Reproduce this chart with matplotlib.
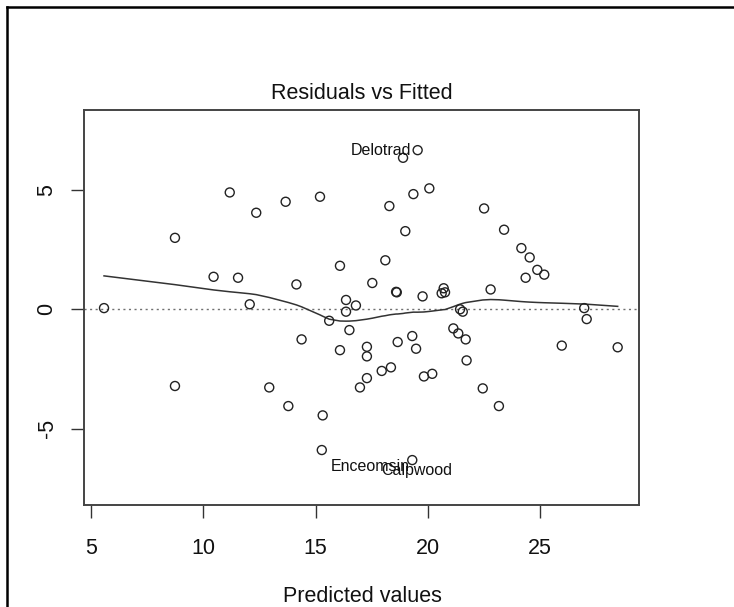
import numpy as np
import matplotlib
matplotlib.use("Agg")
import matplotlib.pyplot as plt
from matplotlib.lines import Line2D

plt.rcParams['font.family'] = ['Liberation Sans', 'DejaVu Sans']

# Fitted values and residuals
fitted = [5.58, 8.74, 8.74, 10.46, 11.18, 11.55, 12.07, 12.36, 12.94, 13.67,
          13.79, 14.15, 14.38, 15.20, 15.32, 15.28, 15.61, 16.09, 16.09, 16.36,
          16.36, 16.51, 16.80, 16.98, 17.29, 17.29, 17.29, 17.53, 17.95, 18.11,
          18.29, 18.36, 18.59, 18.62, 18.66, 18.90, 19.00, 19.31, 19.31, 19.36,
          19.48, 19.55, 19.77, 19.83, 20.07, 20.20, 20.62, 20.71, 20.77, 21.14,
          21.36, 21.44, 21.56, 21.69, 21.73, 22.45, 22.51, 22.80, 23.17, 23.40,
          24.17, 24.36, 24.54, 24.88, 25.19, 25.97, 26.97, 27.08, 28.46]
residuals = [0.04, 2.98, -3.22, 1.35, 4.88, 1.31, 0.20, 4.03, -3.28, 4.49,
             -4.06, 1.03, -1.27, 4.70, -4.45, -5.90, -0.49, 1.81, -1.72, 0.38,
             -0.11, -0.88, 0.15, -3.28, -1.58, -1.98, -2.89, 1.09, -2.59, 2.04,
             4.31, -2.44, 0.72, 0.70, -1.38, 6.33, 3.26, -1.13, -6.32, 4.81,
             -1.66, 6.65, 0.53, -2.82, 5.05, -2.71, 0.66, 0.87, 0.70, -0.81,
             -1.02, -0.01, -0.11, -1.27, -2.15, -3.32, 4.21, 0.82, -4.06, 3.32,
             2.55, 1.31, 2.16, 1.64, 1.44, -1.53, 0.04, -0.42, -1.60]

# Labelled observations (largest residuals)
id_names = ["Delotrad", "Enceomsin", "Calpwood"]
id_fitted = [19.55, 15.28, 19.31]
id_resid = [6.65, -5.90, -6.32]

x_ticks = [5, 10, 15, 20, 25]
y_ticks = [-5, 0, 5]


def lowess(x, y, f=2/3, iters=3):
    """Locally weighted linear smoother with robustness iterations."""
    x = np.asarray(x, float)
    y = np.asarray(y, float)
    order = np.argsort(x, kind="stable")
    x, y = x[order], y[order]
    n = len(x)
    ns = max(min(int(f * n + 1e-7), n), 2)
    rw = np.ones(n)
    ys = np.zeros(n)
    for it in range(iters + 1):
        for i in range(n):
            d = np.abs(x - x[i])
            h = max(np.sort(d)[ns - 1], 1e-12)
            w = np.clip(1 - (d / h) ** 3, 0, None) ** 3
            w = w * rw
            sw = w.sum()
            if sw <= 0:
                ys[i] = y[i]
                continue
            wn = w / sw
            xm = (wn * x).sum()
            c = (wn * (x - xm) ** 2).sum()
            if np.sqrt(c) > 0.001 * (x[-1] - x[0]):
                b = (wn * (x - xm) * y).sum() / c
                ys[i] = (wn * y).sum() + b * (x[i] - xm)
            else:
                ys[i] = (wn * y).sum()
        if it == iters:
            break
        res = y - ys
        cmad = 6 * np.median(np.abs(res))
        if cmad == 0:
            break
        u = res / cmad
        rw = np.where(np.abs(u) < 1, (1 - u ** 2) ** 2, 0)
    return x, ys


W, H = 734, 607
fig = plt.figure(figsize=(W / 100, H / 100), dpi=100)
ax = fig.add_axes([84 / W, 1 - 505 / H, (639 - 84) / W, (505 - 110) / H])

ax.axhline(0, color="#707070", linestyle=(0, (1.5, 2.5)), linewidth=1.0, zorder=1)
ax.scatter(fitted, residuals, s=42, facecolors="none", edgecolors="#222222",
           linewidths=1.0, zorder=3)
sx, sy = lowess(fitted, residuals)
ax.plot(sx, sy, color="#333333", linewidth=1.1, zorder=2)

offsets = [(-6, 0, "right"), (9, -16, "left"), (4, -10, "center")]
for name, fx, ry, (dx, dy, ha) in zip(id_names, id_fitted, id_resid, offsets):
    ax.annotate(name, xy=(fx, ry), xytext=(dx, dy), textcoords="offset pixels",
                ha=ha, va="center", fontsize=11.5, color="#111111")

ax.set_xlim(4.688, 29.41)
ax.set_ylim(-8.20, 8.33)
ax.set_xticks(x_ticks)
ax.set_yticks(y_ticks)
ax.set_xticklabels([str(v) for v in x_ticks], fontsize=15.5)
ax.set_yticklabels([str(v) for v in y_ticks], fontsize=15.5, rotation=90, va="center")
ax.tick_params(length=9.5, width=1.0, color="#333333", labelcolor="#111111")
ax.tick_params(axis="x", pad=14)
ax.tick_params(axis="y", pad=9.5)
for sp in ax.spines.values():
    sp.set_color("#444444")
    sp.set_linewidth(1.4)

ax.set_title("Residuals vs Fitted", fontsize=15.5, pad=8, color="#111111")
fig.text(362 / W, 1 - 596 / H, "Predicted values", ha="center", va="center",
         fontsize=15.5, color="#111111")

# Outer frame
fig.add_artist(Line2D([7 / W, 1], [1 - 7 / H, 1 - 7 / H], color="black", linewidth=1.8,
                      transform=fig.transFigure))
fig.add_artist(Line2D([7 / W, 7 / W], [0, 1 - 7 / H], color="black", linewidth=1.8,
                      transform=fig.transFigure))

fig.savefig("out.png", dpi=100, facecolor="white")
